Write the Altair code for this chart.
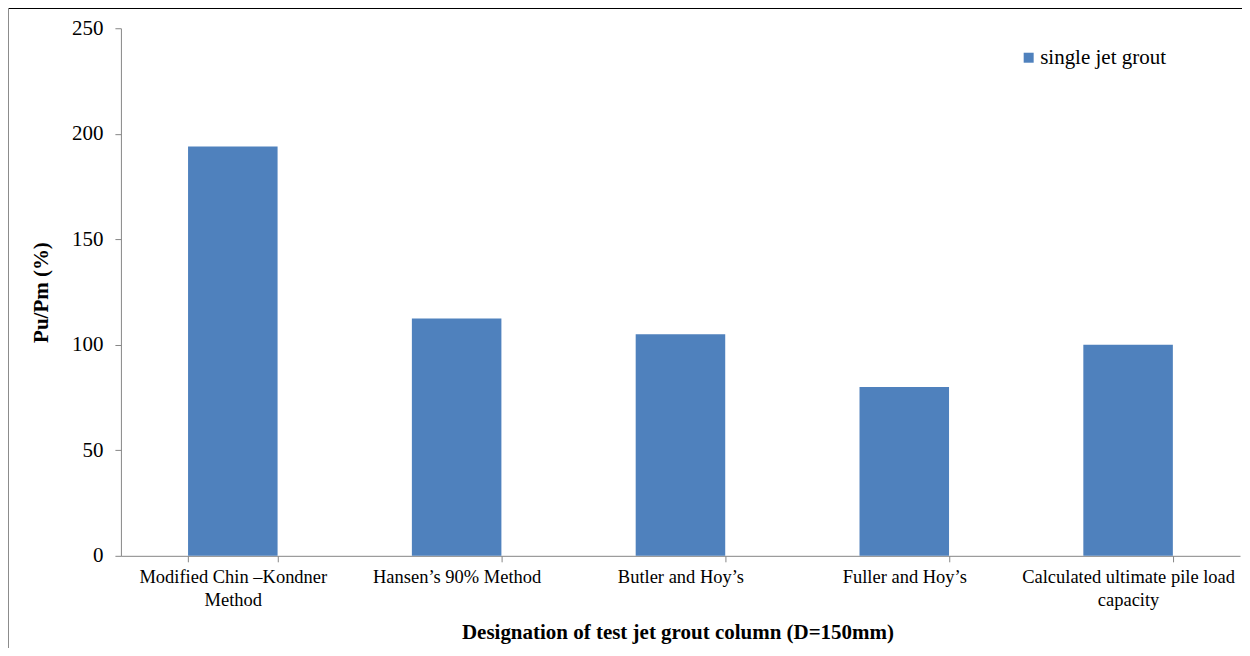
import altair as alt
import pandas as pd

categories = [
    "Modified Chin –Kondner Method",
    "Hansen’s 90% Method",
    "Butler and Hoy’s",
    "Fuller and Hoy’s",
    "Calculated ultimate pile load capacity",
]
label_lines = [
    ["Modified Chin –Kondner", "Method"],
    ["Hansen’s 90% Method"],
    ["Butler and Hoy’s"],
    ["Fuller and Hoy’s"],
    ["Calculated ultimate pile load", "capacity"],
]
values = [194, 112.5, 105, 80, 100]
series_name = "single jet grout"
y_ticks = [0, 50, 100, 150, 200, 250]

df = pd.DataFrame({"category": categories, "value": values, "series": series_name})

# labelExpr mapping for multi-line labels
parts = []
for c, lines in zip(categories, label_lines):
    arr = "[" + ",".join("'" + l.replace("'", "\\'") + "'" for l in lines) + "]"
    parts.append("datum.label == '" + c.replace("'", "\\'") + "' ? " + arr)
label_expr = " : ".join(parts) + " : datum.label"

FONT = "Liberation Serif, Times New Roman, serif"
W, H = 1120, 528

bars = alt.Chart(df).mark_bar(color="#4F81BD").encode(
    x=alt.X(
        "category:N",
        sort=categories,
        scale=alt.Scale(paddingInner=0.6, paddingOuter=0.3),
        axis=alt.Axis(
            title="Designation of test jet grout column (D=150mm)",
            labelExpr=label_expr,
            labelAngle=0,
            labelFont=FONT,
            labelFontSize=18.5,
            labelColor="black",
            labelLineHeight=23,
            labelPadding=6,
            labelBaseline="top",
            tickBand="extent",
            tickSize=6,
            tickColor="#868686",
            domainColor="#868686",
            titleFont=FONT,
            titleFontSize=21,
            titleFontWeight="bold",
            titleColor="black",
            titleBaseline="alphabetic",
            titleY=83,
            titleX=W / 2 - 3,
            labelLimit=400,
        ),
    ),
    y=alt.Y(
        "value:Q",
        scale=alt.Scale(domain=[0, 250], nice=False),
        axis=alt.Axis(
            title="Pu/Pm (%)",
            values=y_ticks,
            grid=False,
            labelFont=FONT,
            labelFontSize=21,
            labelColor="black",
            labelPadding=12,
            tickSize=6,
            tickColor="#868686",
            domainColor="#868686",
            titleFont=FONT,
            titleFontSize=21,
            titleFontWeight="bold",
            titleColor="black",
            titleX=-69,
            titleY=H / 2,
        ),
    ),
    color=alt.Color(
        "series:N",
        scale=alt.Scale(range=["#4F81BD"]),
        legend=alt.Legend(
            title=None,
            orient="none",
            legendX=898,
            legendY=19,
            padding=0,
            symbolType="square",
            symbolSize=100,
            symbolStrokeWidth=0,
            labelFont=FONT,
            labelFontSize=21,
            labelColor="black",
            labelOffset=1,
        ),
    ),
)

frame_top = alt.Chart(df).mark_rule(color="black", strokeWidth=1.5).encode(
    x=alt.value(-113), x2=alt.value(W + 10), y=alt.value(-20)
)
frame_left = alt.Chart(df).mark_rule(color="#8c8c8c", strokeWidth=2).encode(
    x=alt.value(-113), y=alt.value(-20), y2=alt.value(H + 100)
)

chart = alt.layer(bars, frame_top, frame_left).properties(
    width=W,
    height=H,
    autosize=alt.AutoSizeParams(type="none"),
    padding={"left": 113, "top": 20, "right": 2, "bottom": 92},
).configure(
    background="white",
    view=alt.ViewConfig(stroke="transparent", strokeWidth=0),
)

chart.save("out.html", embed_options={"renderer": "svg", "actions": False})
